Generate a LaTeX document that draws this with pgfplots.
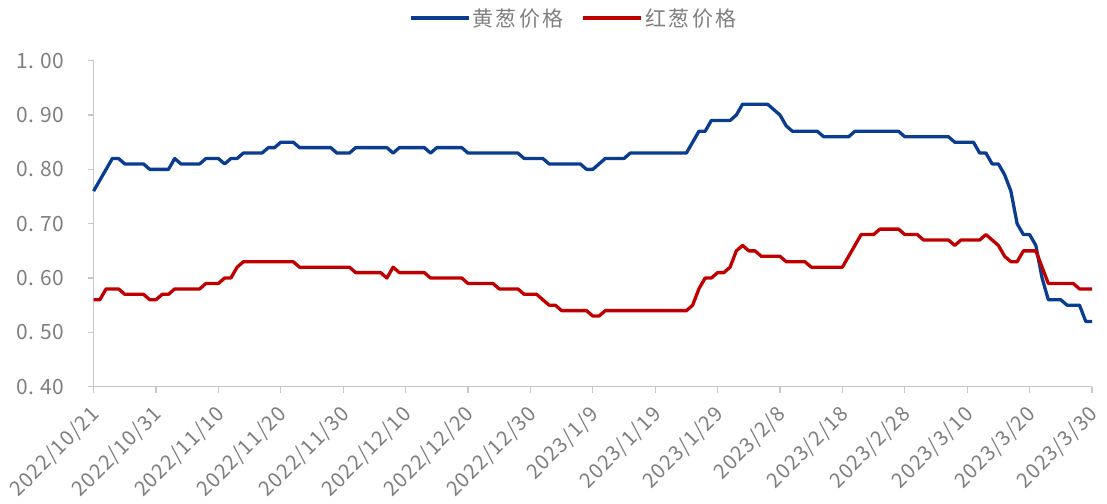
\documentclass[border=0pt]{standalone}
\usepackage{pgfplots}
\pgfplotsset{compat=1.18}
\usepackage{fontspec}
\setmainfont{Noto Sans CJK SC}
\newfontfamily\cjkls{Noto Sans CJK SC}[LetterSpace=12]
\newfontfamily\cjkx{Noto Sans CJK SC}[LetterSpace=5]
\definecolor{cblue}{HTML}{0A3D8F}
\definecolor{cred}{HTML}{C00000}
\definecolor{tgray}{HTML}{7F7F7F}
\definecolor{agray}{HTML}{C8C8C8}
\begin{document}
\begin{tikzpicture}
\useasboundingbox (-93.6pt,-116.3pt) rectangle (1013.4pt,386.7pt);
\begin{axis}[
  scale only axis, width=998.4pt, height=326pt,
  xmin=0, xmax=160, ymin=0.4, ymax=1.0,
  clip=false,
  axis x line=bottom, axis y line=left,
  axis line style={draw=agray, line width=1.2pt, -},
  tick style={draw=agray, line width=1.2pt},
  tick align=outside, major tick length=6pt,
  xtick={0,10,20,30,40,50,60,70,80,90,100,110,120,130,140,150,160},
  xticklabels={2022/10/21,2022/10/31,2022/11/10,2022/11/20,2022/11/30,2022/12/10,2022/12/20,2022/12/30,2023/1/9,2023/1/19,2023/1/29,2023/2/8,2023/2/18,2023/2/28,2023/3/10,2023/3/20,2023/3/30},
  ytick={0.4,0.5,0.6,0.7,0.8,0.9,1.0},
  yticklabels={0.\hspace{0.3em}40,0.\hspace{0.3em}50,0.\hspace{0.3em}60,0.\hspace{0.3em}70,0.\hspace{0.3em}80,0.\hspace{0.3em}90,1.\hspace{0.3em}00},
  yticklabel style={font=\fontsize{21}{24}\selectfont, text=tgray, xshift=-20pt},
  xticklabel style={font=\cjkx\fontsize{20.5}{24}\selectfont, text=tgray, xshift=5pt, yshift=-16pt, rotate=45, anchor=east},
  legend style={draw=none, fill=none, at={(axis description cs:0.481,1.131)}, anchor=center,
    font=\cjkls\fontsize{21}{24}\selectfont, text=tgray,
    /tikz/every even column/.append style={column sep=16pt}},
  legend columns=2,
  legend image code/.code={\draw[#1] (0pt,0pt) -- (53pt,0pt); \path (0pt,0pt) -- (58pt,0pt);},
  every axis plot/.append style={line width=3.3pt, line join=round},
]
\addplot[cblue] coordinates {
(0,0.76)(1,0.78)(2,0.80)(3,0.82)(4,0.82)(5,0.81)(8,0.81)(9,0.80)(12,0.80)(13,0.82)(14,0.81)(17,0.81)(18,0.82)(20,0.82)(21,0.81)(22,0.82)(23,0.82)(24,0.83)(27,0.83)(28,0.84)(29,0.84)(30,0.85)(32,0.85)(33,0.84)(38,0.84)(39,0.83)(41,0.83)(42,0.84)(47,0.84)(48,0.83)(49,0.84)(53,0.84)(54,0.83)(55,0.84)(59,0.84)(60,0.83)(68,0.83)(69,0.82)(72,0.82)(73,0.81)(78,0.81)(79,0.80)(80,0.80)(81,0.81)(82,0.82)(85,0.82)(86,0.83)(95,0.83)(96,0.85)(97,0.87)(98,0.87)(99,0.89)(102,0.89)(103,0.90)(104,0.92)(108,0.92)(109,0.91)(110,0.90)(111,0.88)(112,0.87)(116,0.87)(117,0.86)(121,0.86)(122,0.87)(129,0.87)(130,0.86)(137,0.86)(138,0.85)(141,0.85)(142,0.83)(143,0.83)(144,0.81)(145,0.81)(146,0.79)(147,0.76)(148,0.70)(149,0.68)(150,0.68)(151,0.66)(152,0.60)(153,0.56)(155,0.56)(156,0.55)(158,0.55)(159,0.52)(160,0.52)
};
\addlegendentry{黄葱价格}
\addplot[cred] coordinates {
(0,0.56)(1,0.56)(2,0.58)(4,0.58)(5,0.57)(8,0.57)(9,0.56)(10,0.56)(11,0.57)(12,0.57)(13,0.58)(17,0.58)(18,0.59)(20,0.59)(21,0.60)(22,0.60)(23,0.62)(24,0.63)(32,0.63)(33,0.62)(41,0.62)(42,0.61)(46,0.61)(47,0.60)(48,0.62)(49,0.61)(53,0.61)(54,0.60)(59,0.60)(60,0.59)(64,0.59)(65,0.58)(68,0.58)(69,0.57)(71,0.57)(72,0.56)(73,0.55)(74,0.55)(75,0.54)(79,0.54)(80,0.53)(81,0.53)(82,0.54)(95,0.54)(96,0.55)(97,0.58)(98,0.60)(99,0.60)(100,0.61)(101,0.61)(102,0.62)(103,0.65)(104,0.66)(105,0.65)(106,0.65)(107,0.64)(110,0.64)(111,0.63)(114,0.63)(115,0.62)(120,0.62)(121,0.64)(122,0.66)(123,0.68)(125,0.68)(126,0.69)(129,0.69)(130,0.68)(132,0.68)(133,0.67)(137,0.67)(138,0.66)(139,0.67)(142,0.67)(143,0.68)(144,0.67)(145,0.66)(146,0.64)(147,0.63)(148,0.63)(149,0.65)(151,0.65)(152,0.62)(153,0.59)(157,0.59)(158,0.58)(160,0.58)
};
\addlegendentry{红葱价格}
\end{axis}
\end{tikzpicture}
\end{document}
